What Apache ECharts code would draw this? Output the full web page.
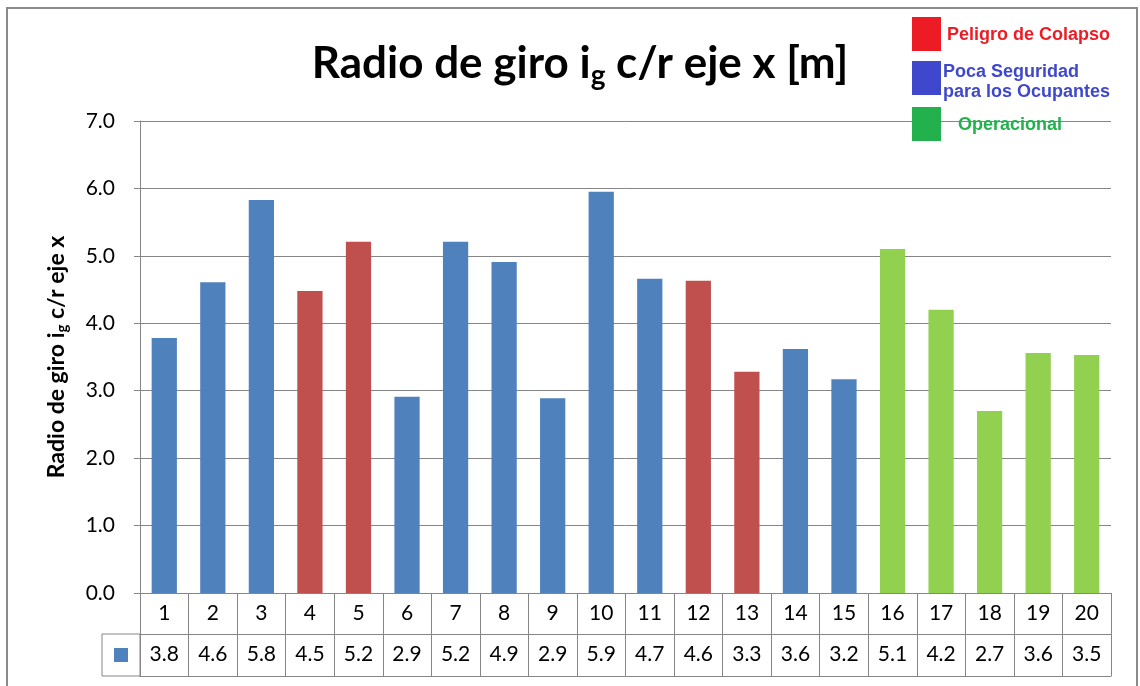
<!DOCTYPE html>
<html><head><meta charset="utf-8">
<script src="https://cdn.jsdelivr.net/npm/echarts@6/dist/echarts.min.js"></script>
<style>html,body{margin:0;padding:0;background:#fff}#c{width:1140px;height:686px}</style>
</head><body><div id="c"></div>
<script>
const categories = ['1','2','3','4','5','6','7','8','9','10','11','12','13','14','15','16','17','18','19','20'];
const values = [3.78,4.61,5.83,4.48,5.21,2.91,5.21,4.91,2.89,5.95,4.66,4.63,3.28,3.62,3.17,5.10,4.20,2.70,3.56,3.53];
const tableLabels = ['3.8','4.6','5.8','4.5','5.2','2.9','5.2','4.9','2.9','5.9','4.7','4.6','3.3','3.6','3.2','5.1','4.2','2.7','3.6','3.5'];
const groups = ['P','P','P','C','C','P','P','P','P','P','P','C','C','P','P','O','O','O','O','O'];
const legendItems = ['Peligro de Colapso','Poca Seguridad\npara los Ocupantes','Operacional'];

const barColor = {P:'#4F81BD', C:'#C0504D', O:'#92D050'};
const font = 'Lato, "Open Sans", sans-serif';
const grey = '#868686';
const legFont = 'bold 18px "Liberation Sans", Arial, sans-serif';

const chart = echarts.init(document.getElementById('c'));
chart.setOption({
  animation:false,
  backgroundColor:'#fff',
  title:{
    text:'Radio de giro i{sub|g} c/r eje x [m]',
    left:575, textAlign:'center', top:33,
    textStyle:{fontFamily:font, fontWeight:'bold', fontSize:44, color:'#000',
      rich:{sub:{fontFamily:font, fontWeight:'bold', fontSize:28, color:'#000', padding:[24,0,0,0]}}}
  },
  grid:{left:140, right:29, top:121, bottom:93, containLabel:false},
  xAxis:[
    {type:'category', data:categories, position:'bottom',
     axisLine:{show:true, lineStyle:{color:grey, width:1}},
     axisTick:{show:true, length:83, lineStyle:{color:grey, width:1}},
     axisLabel:{interval:0, margin:10, fontFamily:font, fontSize:21, color:'#000'}},
    {type:'category', data:categories, position:'bottom', offset:41,
     axisLine:{show:true, lineStyle:{color:grey, width:1}},
     axisTick:{show:false},
     axisLabel:{interval:0, margin:10, fontFamily:font, fontSize:21, color:'#000',
       formatter:(v,i)=>tableLabels[i]}},
    {type:'category', data:categories, position:'bottom', offset:83,
     axisLine:{show:true, lineStyle:{color:grey, width:1}},
     axisTick:{show:false}, axisLabel:{show:false}}
  ],
  yAxis:{
    type:'value', min:0, max:7, interval:1,
    name:'Radio de giro i{sub|g} c/r eje x', nameLocation:'middle', nameRotate:90, nameGap:70,
    nameTextStyle:{fontFamily:font, fontWeight:'bold', fontSize:23, color:'#000',
      rich:{sub:{fontFamily:font, fontWeight:'bold', fontSize:15, color:'#000', padding:[12,0,0,0]}}},
    axisLine:{show:true, lineStyle:{color:grey}},
    axisTick:{show:true, length:6, lineStyle:{color:grey}},
    splitLine:{show:true, lineStyle:{color:grey}},
    axisLabel:{margin:25, fontFamily:font, fontSize:21, color:'#000', formatter:v=>v.toFixed(1)}
  },
  series:[{
    type:'bar', xAxisIndex:0, barWidth:'52%',
    data: values.map((v,i)=>({value:v, itemStyle:{color:barColor[groups[i]]}}))
  }],
  graphic:[
    {type:'rect', shape:{x:7,y:8,width:1130,height:700}, style:{fill:'none', stroke:'#8a8a8a', lineWidth:2}, z:-1},
    {type:'rect', shape:{x:102,y:634,width:38,height:42}, style:{fill:'none', stroke:grey, lineWidth:1}},
    {type:'rect', shape:{x:114,y:648,width:14,height:14}, style:{fill:'#4F81BD'}},
    {type:'rect', shape:{x:912,y:17,width:29,height:34}, style:{fill:'#ED1C24'}, z:10},
    {type:'rect', shape:{x:912,y:61,width:29,height:34}, style:{fill:'#3F48CC'}, z:10},
    {type:'rect', shape:{x:912,y:107,width:29,height:34}, style:{fill:'#22B14C'}, z:10},
    {type:'text', left:947, top:26, z:10, style:{text:legendItems[0], fill:'#ED1C24', font:legFont}},
    {type:'text', left:943, top:62, z:10, style:{text:legendItems[1], fill:'#3F48CC', font:legFont, lineHeight:20}},
    {type:'text', left:958, top:116, z:10, style:{text:legendItems[2], fill:'#22B14C', font:legFont}}
  ]
});
</script></body></html>
